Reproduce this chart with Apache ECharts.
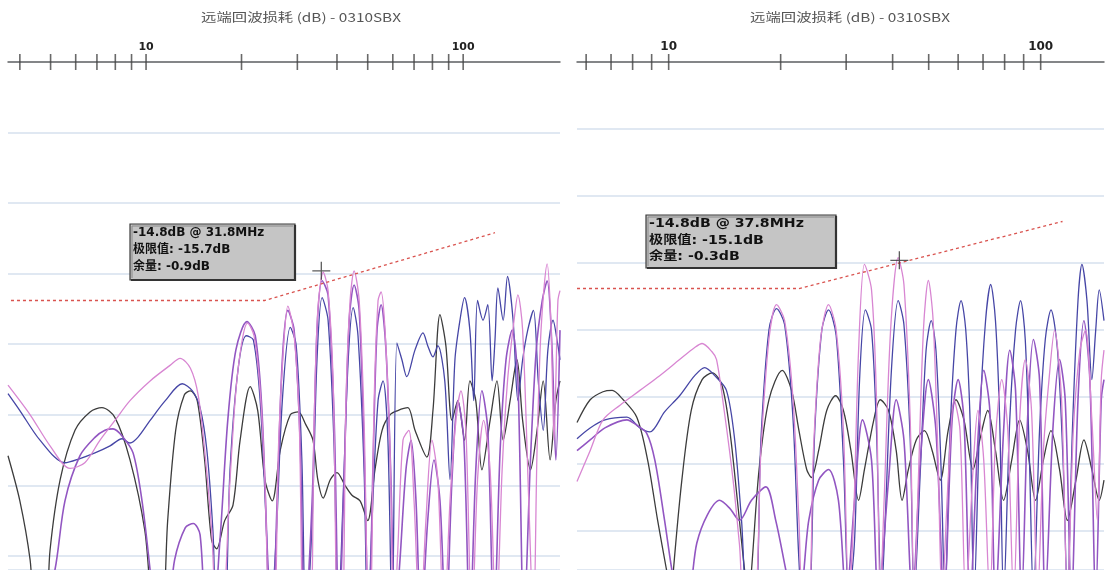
<!DOCTYPE html>
<html><head><meta charset="utf-8">
<script src="https://cdn.jsdelivr.net/npm/echarts@6/dist/echarts.min.js"></script>
<style>html,body{margin:0;padding:0;background:#fff}#c{width:1107px;height:570px}</style>
</head><body><div id="c"></div>
<script>
const titleText = '远端回波损耗 (dB) - 0310SBX';
const tickLabels = [10, 100];
const leftTicks = [4,5,6,7,8,9,10,20,30,40,50,60,70,80,90,100];
const rightTicks = [6,7,8,9,10,20,30,40,50,60,70,80,90,100];
const leftBox = ['-14.8dB @ 31.8MHz', '极限值: -15.7dB', '余量: -0.9dB'];
const rightBox = ['-14.8dB @ 37.8MHz', '极限值: -15.1dB', '余量: -0.3dB'];
const leftMarker = [[35.7, -14.8]];
const rightMarker = [[41.7, -14.8]];
const leftLimit = [[3.75,-16.9],[23.7,-16.9],[126,-12.1]];
const rightLimit = [[5.67,-16.9],[22.4,-16.9],[114.5,-11.9]];

const blackL = [[3.67,-27.9],[4.00,-31.1],[4.31,-35.3],[4.50,-40],[4.80,-40],[4.98,-34.6],[5.36,-29.6],[5.97,-26.1],[6.66,-24.8],[7.26,-24.5],[7.98,-25.2],[8.90,-28.2],[9.91,-33.2],[10.7,-40],[11.2,-40],[11.7,-32.5],[12.4,-26.1],[13.2,-23.6],[13.8,-23.3],[14.5,-24.0],[15.3,-28.2],[16.1,-33.9],[16.7,-34.5],[17.7,-32.5],[18.8,-31.4],[19.8,-26.8],[21.3,-23.0],[22.5,-24.7],[23.7,-29.6],[25.0,-31.1],[26.5,-27.5],[28.5,-25.0],[30.2,-24.8],[31.9,-25.7],[33.6,-26.8],[34.8,-29.6],[36.2,-30.9],[38.1,-29.6],[40.0,-29.1],[42.4,-30.0],[44.6,-30.7],[47.3,-31.1],[50.0,-32.5],[52.7,-28.9],[55.5,-26.1],[58.8,-25.0],[62.2,-24.7],[66.9,-24.5],[70.5,-26.1],[76.8,-28.0],[80.3,-24.7],[84.5,-17.9],[88.2,-20.1],[92.2,-25.4],[96.2,-24.0],[101,-26.8],[105,-22.6],[109.6,-24.0],[114.6,-28.9],[121.6,-25.4],[127.8,-22.6],[133.7,-26.8],[140.6,-24.0],[147.8,-21.1],[154,-25.4],[163,-28.9],[171,-26.1],[178.8,-22.6],[188,-28.2],[196,-24.0],[202,-22.6]];
const blueL = [[3.67,-23.5],[4.00,-24.7],[4.63,-26.8],[5.55,-28.4],[6.19,-28.1],[6.90,-27.7],[7.70,-27.2],[8.40,-26.7],[8.90,-27.0],[9.42,-26.6],[10.3,-25.4],[11.5,-24.0],[13.0,-22.8],[14.0,-23.3],[14.8,-24.5],[15.55,-27.5],[16.25,-33.2],[16.8,-40],[17.6,-40],[18.4,-28.9],[19.5,-21.8],[20.7,-19.4],[21.8,-19.7],[22.9,-24.0],[23.9,-32.5],[24.6,-40],[25.7,-33.9],[26.9,-24.0],[28.5,-18.8],[29.75,-20.1],[31.0,-28.2],[31.9,-40],[33.4,-32.5],[34.6,-21.1],[35.9,-16.7],[37.5,-18.3],[39.2,-27.5],[40.3,-40],[41.8,-31.1],[43.4,-21.1],[45.0,-17.4],[46.6,-19.4],[48.7,-28.9],[50.0,-40],[51.6,-32.5],[53.9,-24.0],[55.9,-22.6],[57.9,-26.8],[59.7,-40],[61.8,-19.9],[64.1,-21.1],[66.4,-22.3],[70.5,-20.4],[74.7,-19.2],[77.3,-20.1],[80.3,-20.9],[83.2,-20.1],[87.5,-22.6],[90.9,-29.6],[94.2,-21.1],[97.7,-18.3],[101,-16.7],[105,-19.0],[108,-24.0],[111,-16.9],[115.5,-18.3],[119.6,-17.2],[123.4,-22.6],[126,-19.7],[128.7,-16.0],[133.7,-18.3],[138,-15.2],[143.7,-18.3],[148.8,-24.0],[154,-21.1],[159.8,-19.0],[166.6,-17.6],[172.5,-22.6],[178.8,-26.1],[185,-20.4],[192,-18.3],[199,-20.1],[202,-21.1]];
const purpleL = [[3.67,-40],[4.63,-40],[5.16,-36.0],[5.55,-31.1],[6.19,-27.9],[6.90,-26.6],[7.42,-26.1],[7.87,-26.0],[8.40,-26.5],[9.10,-27.7],[9.71,-31.1],[10.3,-36.0],[10.75,-40],[11.5,-40],[12.3,-35.3],[13.3,-33.0],[14.1,-32.7],[14.8,-33.5],[15.55,-40],[16.1,-40],[17.1,-33.9],[18.1,-25.4],[19.2,-20.4],[20.8,-18.4],[22.1,-19.4],[23.2,-24.7],[24.2,-35.3],[25.0,-40],[25.9,-31.1],[26.9,-21.1],[28.0,-17.6],[29.3,-19.0],[30.6,-26.8],[31.7,-40],[33.4,-31.1],[34.6,-19.0],[35.9,-15.5],[37.5,-16.5],[39.2,-25.4],[40.6,-40],[42.1,-29.6],[43.7,-18.3],[45.3,-15.8],[47.0,-17.6],[48.7,-27.5],[50.4,-40],[52.0,-28.2],[53.5,-19.0],[55.1,-17.2],[57.1,-20.4],[59.2,-29.6],[60.9,-40],[63.2,-35.3],[66.0,-28.9],[68.5,-26.8],[71.0,-31.1],[73.6,-40],[77.3,-32.5],[80.9,-28.2],[84.5,-31.1],[88.2,-40],[92.2,-29.6],[96.2,-24.0],[100.5,-26.8],[105,-40],[109.6,-28.9],[114.6,-23.3],[119.6,-26.1],[125,-40],[130.8,-27.5],[136.5,-21.1],[142.7,-19.0],[148.8,-22.6],[155.4,-40],[163,-28.2],[170,-20.4],[177.6,-16.9],[184,-15.5],[190.7,-20.4],[196,-28.2],[202,-19.0]];
const pinkL = [[3.67,-22.9],[4.31,-25.0],[4.98,-27.2],[5.76,-28.8],[6.41,-28.4],[7.16,-26.8],[7.98,-25.4],[8.90,-24.0],[10.3,-22.6],[11.9,-21.5],[12.8,-21.0],[13.8,-21.7],[14.6,-23.6],[15.3,-27.5],[16.1,-33.2],[16.8,-40],[17.3,-40],[18.4,-29.6],[19.2,-23.3],[20.1,-19.7],[20.9,-18.5],[21.9,-19.4],[22.9,-23.3],[23.7,-29.6],[24.6,-40],[25.3,-40],[26.2,-26.8],[27.1,-20.4],[28.0,-17.3],[29.3,-19.4],[30.4,-25.4],[31.5,-40],[32.9,-40],[33.9,-25.4],[34.8,-17.6],[36.2,-14.9],[37.5,-16.2],[38.9,-22.6],[40.3,-40],[41.5,-40],[42.7,-24.0],[44.0,-16.9],[45.3,-14.8],[47.0,-16.9],[48.7,-25.4],[50.4,-40],[50.9,-40],[52.4,-24.0],[53.9,-16.9],[55.1,-16.3],[56.7,-19.0],[58.8,-27.5],[60.5,-40],[62.2,-34.6],[64.6,-26.8],[67.4,-26.1],[70.0,-31.1],[73.1,-40],[76.3,-32.5],[79.7,-26.8],[83.2,-29.6],[87.0,-40],[90.9,-31.1],[94.9,-25.4],[98.4,-23.3],[102,-26.1],[106.5,-40],[111,-29.6],[116,-25.4],[121.6,-28.9],[127,-40],[132.7,-28.9],[138,-22.6],[144.7,-18.3],[148.8,-16.5],[154,-19.0],[161,-31.1],[166.6,-40],[171,-27.5],[176,-19.0],[184,-14.3],[189,-18.3],[193.5,-26.8],[196,-22.6],[199,-16.9],[202,-16.2]];

const blackR = [[5.67,-26.9],[6.15,-25.2],[6.66,-24.6],[7.05,-24.5],[7.49,-25.1],[8.21,-26.5],[8.78,-29.7],[9.34,-34.2],[9.87,-37.9],[10.2,-40],[10.3,-37.9],[10.85,-31.2],[11.5,-26.0],[12.3,-23.7],[13.1,-23.2],[13.9,-24.1],[14.6,-27.5],[15.3,-32.7],[16.0,-37.9],[16.4,-40],[16.7,-37.9],[17.5,-30.4],[18.6,-25.2],[20.2,-23.0],[21.4,-24.5],[22.4,-27.5],[23.5,-30.4],[24.2,-31.0],[25.3,-29.0],[26.6,-26.0],[28.1,-24.9],[29.5,-26.0],[30.9,-29.0],[32.4,-32.7],[33.6,-30.4],[35.6,-26.7],[37.05,-25.2],[39.0,-26.0],[40.9,-29.0],[42.4,-32.7],[44.1,-30.4],[46.3,-28.2],[48.7,-27.5],[51.1,-29.0],[53.7,-31.2],[56.4,-27.5],[59.2,-25.2],[62.2,-26.7],[65.8,-30.4],[68.6,-28.2],[72.1,-26.0],[75.6,-29.0],[79.5,-32.7],[83.6,-29.7],[87.8,-26.7],[92.2,-29.0],[96.9,-32.7],[101.7,-29.7],[106.6,-27.5],[112.4,-30.4],[118,-34.2],[124.4,-31.2],[130.7,-28.2],[137.3,-30.4],[143.7,-32.7],[148,-31.2]];
const blueR = [[5.67,-28.1],[6.15,-27.3],[6.74,-26.7],[7.72,-26.5],[8.37,-27.3],[8.90,-27.6],[9.75,-26.1],[10.7,-24.9],[11.75,-23.4],[12.5,-22.8],[13.3,-23.4],[14.3,-24.5],[15.05,-28.2],[15.7,-34.2],[16.3,-40],[17.1,-40],[17.7,-28.2],[18.6,-20.0],[19.5,-18.4],[20.5,-19.6],[21.6,-26.7],[22.4,-37.2],[22.95,-40],[23.8,-40],[24.7,-27.5],[25.8,-20.0],[26.9,-18.5],[28.2,-20.4],[29.5,-29.7],[30.5,-40],[31.6,-35.7],[32.6,-23.7],[33.8,-18.5],[35.1,-20.0],[36.2,-27.5],[37.3,-40],[38.2,-34.2],[39.7,-23.0],[41.4,-17.8],[42.9,-19.6],[44.6,-28.2],[45.7,-40],[47.5,-30.4],[49.2,-21.5],[50.8,-19.3],[52.3,-21.5],[54.0,-30.4],[55.3,-40],[57.1,-27.5],[59.2,-20.0],[61.1,-17.8],[62.9,-20.0],[64.6,-26.7],[66.2,-40],[68.6,-26.7],[71.1,-19.3],[73.4,-16.6],[75.6,-19.3],[77.6,-26.7],[79.5,-40],[82.6,-26.7],[85.6,-20.0],[88.3,-17.8],[90.9,-20.7],[93.3,-29.7],[95.6,-40],[99.3,-27.5],[102.9,-20.7],[106.6,-18.5],[111,-21.5],[115.1,-30.4],[118,-40],[121.7,-27.5],[126,-17.8],[129.1,-15.1],[133.2,-17.8],[137.3,-23.7],[140.6,-20.0],[143.7,-17.0],[148,-19.3]];
const purpleR = [[5.67,-29.0],[6.15,-28.2],[6.74,-27.3],[7.72,-26.7],[8.21,-27.1],[8.73,-27.7],[9.18,-29.7],[9.75,-34.2],[10.2,-37.9],[10.55,-40],[11.2,-40],[11.9,-35.9],[12.7,-33.8],[13.7,-32.7],[14.6,-33.3],[15.5,-34.2],[16.7,-32.7],[18.25,-31.7],[19.4,-34.2],[20.65,-37.9],[21.4,-40],[22.4,-40],[23.8,-34.2],[25.3,-31.2],[26.9,-30.4],[28.6,-32.7],[30.0,-40],[31.6,-32.7],[33.2,-26.7],[35.1,-29.7],[36.6,-40],[39.0,-31.2],[40.9,-25.2],[42.9,-28.2],[45.2,-40],[47.5,-29.7],[49.9,-23.7],[52.3,-27.5],[55.0,-40],[57.8,-26.7],[60.0,-23.7],[62.2,-26.7],[64.6,-40],[67.8,-28.2],[70.3,-23.0],[73.0,-26.0],[75.6,-40],[79.5,-27.5],[82.6,-21.5],[85.6,-24.5],[88.9,-40],[92.2,-26.7],[95.6,-20.7],[99.3,-23.7],[102.9,-40],[107.8,-27.5],[112.4,-22.2],[116.4,-25.2],[121,-40],[126,-25.2],[130.7,-19.3],[135.6,-23.7],[140.6,-40],[145.5,-25.2],[148,-23.7]];
const pinkR = [[5.67,-31.3],[6.15,-29.0],[6.66,-26.7],[7.40,-25.6],[8.37,-24.5],[9.46,-23.4],[10.7,-22.2],[11.75,-21.3],[12.3,-21.0],[13.06,-21.6],[13.45,-22.2],[14.1,-26.0],[14.9,-31.2],[15.5,-36.0],[16.0,-40],[17.0,-40],[17.7,-29.0],[18.6,-20.7],[19.5,-18.1],[20.5,-19.3],[21.6,-25.2],[22.4,-34.2],[22.95,-40],[23.8,-40],[24.5,-29.0],[25.6,-20.7],[26.9,-18.1],[28.2,-20.0],[29.5,-27.5],[30.5,-40],[31.4,-34.2],[32.4,-21.5],[33.6,-15.1],[35.1,-17.0],[36.2,-25.2],[37.05,-40],[37.95,-32.7],[39.5,-20.0],[41.4,-14.6],[42.9,-16.6],[44.6,-26.7],[45.7,-40],[46.9,-31.2],[48.4,-20.0],[49.9,-16.3],[51.4,-19.3],[53.0,-29.7],[54.3,-40],[56.4,-31.2],[58.5,-25.2],[60.7,-27.5],[62.9,-40],[65.8,-30.4],[67.8,-26.0],[70.3,-29.7],[73.0,-40],[75.6,-28.2],[78.6,-23.7],[81.6,-27.5],[84.6,-40],[87.8,-26.7],[90.9,-22.2],[94.5,-26.0],[98.1,-40],[101.7,-29.0],[105.3,-23.7],[109,-20.0],[113.8,-25.2],[118,-40],[122.4,-27.5],[127.5,-21.5],[132,-20.0],[137.3,-26.7],[142,-34.2],[145.5,-23.7],[148,-21.5]];

const C_BLACK = '#3c3c3c', C_BLUE = '#4646a6', C_PURPLE = '#9256c2', C_PINK = '#d886d2', C_LIMIT = '#d9534f';

function fmtTick(v) {
  const r = Math.round(v);
  return (Math.abs(v - r) < 1e-6 * v && tickLabels.indexOf(r) >= 0) ? String(r) : '';
}
function xAx(i, min, max, fs) {
  return { gridIndex: i, type: 'log', logBase: 10, min: min, max: max, position: 'top',
    axisLine: { show: true, lineStyle: { color: '#666', width: 1.5 } },
    axisTick: { show: false }, splitLine: { show: false }, minorTick: { show: false },
    axisLabel: { show: true, formatter: fmtTick, margin: 9, color: '#222', fontWeight: 'bold', fontSize: fs, fontFamily: 'DejaVu Sans', showMinLabel: true, showMaxLabel: true, hideOverlap: false } };
}
function yAx(i, min) {
  return { gridIndex: i, type: 'value', min: min, max: 0, splitNumber: 8,
    axisLine: { show: false }, axisTick: { show: false }, axisLabel: { show: false },
    splitLine: { show: true, lineStyle: { color: '#d6e1ee', width: 1.5 } } };
}
function line(data, color, i, w) {
  return { type: 'line', data: data, xAxisIndex: i, yAxisIndex: i, showSymbol: false, symbol: 'none',
    smooth: 0.3, lineStyle: { color: color, width: w || 1.3 }, silent: true, animation: false, z: 3 };
}
function limit(data, i) {
  return { type: 'line', data: data, xAxisIndex: i, yAxisIndex: i, showSymbol: false, symbol: 'none',
    lineStyle: { color: C_LIMIT, width: 1.3, type: [3, 3] }, silent: true, animation: false, z: 4 };
}
function ticks(vals, i) {
  return { type: 'scatter', data: vals.map(v => [v, 0]), xAxisIndex: i, yAxisIndex: i, symbol: 'rect',
    symbolSize: [1.6, 16], itemStyle: { color: '#444' }, clip: false, silent: true, animation: false, z: 6 };
}
function marker(data, i) {
  return { type: 'scatter', data: data, xAxisIndex: i, yAxisIndex: i,
    symbol: 'path://M9,0h1.4v9h9v1.4h-9v9h-1.4v-9h-9v-1.4h9z', symbolSize: 18,
    itemStyle: { color: '#333' }, silent: true, animation: false, z: 7 };
}
function box(x, y, w, h, lines, sx, lh) {
  const els = [
    { type: 'rect', shape: { x: x, y: y, width: w, height: h }, style: { fill: '#c5c5c5', stroke: '#3a3a3a', lineWidth: 1.2 }, z: 20 },
    { type: 'polyline', shape: { points: [[x + 1, y + h], [x + w, y + h], [x + w, y + 1]] }, style: { stroke: '#333', lineWidth: 2.2, fill: null }, z: 21 },
    { type: 'polyline', shape: { points: [[x + 2, y + h - 2], [x + 2, y + 2], [x + w - 2, y + 2]] }, style: { stroke: '#8a8a8a', lineWidth: 1, fill: null }, z: 21 }
  ];
  lines.forEach((t, k) => {
    els.push({ type: 'text', x: x + 3, y: y + 9 + k * lh, scaleX: sx, z: 22,
      style: { text: t, font: 'bold 12px "DejaVu Sans", "Noto Sans CJK SC"', fill: '#111', textAlign: 'left', textVerticalAlign: 'middle' } });
  });
  return els;
}
function title(cx, sx) {
  return { type: 'text', x: cx, y: 17, scaleX: sx, z: 20,
    style: { text: titleText, font: '12px "Noto Sans CJK SC"', fill: '#555', textAlign: 'center', textVerticalAlign: 'middle' } };
}

const chart = echarts.init(document.getElementById('c'), null, { renderer: 'canvas' });
chart.setOption({
  animation: false,
  backgroundColor: '#ffffff',
  grid: [
    { left: 8, top: 62, width: 552, bottom: 0 },
    { left: 577, top: 62, width: 530, bottom: 0 }
  ],
  xAxis: [xAx(0, 3.67, 202, 11), xAx(1, 5.67, 148, 12)],
  yAxis: [yAx(0, -36), yAx(1, -37.9)],
  series: [
    line(blackL, C_BLACK, 0), line(blueL, C_BLUE, 0), line(purpleL, C_PURPLE, 0, 1.6), line(pinkL, C_PINK, 0),
    limit(leftLimit, 0), ticks(leftTicks, 0), marker(leftMarker, 0),
    line(blackR, C_BLACK, 1), line(blueR, C_BLUE, 1), line(purpleR, C_PURPLE, 1, 1.6), line(pinkR, C_PINK, 1),
    limit(rightLimit, 1), ticks(rightTicks, 1), marker(rightMarker, 1)
  ],
  graphic: [title(301, 1.28), title(850, 1.28)]
    .concat(box(130, 224, 165, 56, leftBox, 1.0, 17))
    .concat(box(646, 215, 190, 53, rightBox, 1.18, 16.5))
});
</script>
</body></html>
